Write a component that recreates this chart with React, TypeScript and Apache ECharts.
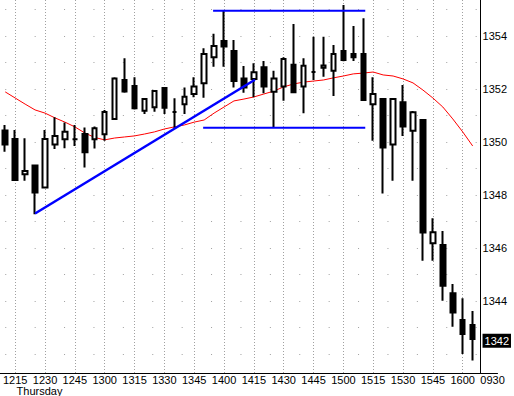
import React, { useEffect, useRef } from 'react';
import * as echarts from 'echarts';

const times = ['1210','1215','1220','1225','1230','1235','1240','1245','1250','1255','1300','1305','1310','1315','1320','1325','1330','1335','1340','1345','1350','1355','1400','1405','1410','1415','1420','1425','1430','1435','1440','1445','1450','1455','1500','1505','1510','1515','1520','1525','1530','1535','1540','1545','1550','1555','1600','1605',' ','0930'];
const shownTimes = ['1215','1230','1245','1300','1315','1330','1345','1400','1415','1430','1445','1500','1515','1530','1545','1600','0930'];
const gridTimes = ['1215','1230','1245','1300','1315','1330','1345','1400','1415','1430','1445','1500','1515','1530','1545','1600'];

const opens =  [1350.43,1350.11,1348.78,1349.11,1348.28,1349.91,1350.10,1350.10,1350.30,1350.10,1350.29,1350.87,1352.34,1352.11,1351.18,1351.31,1352.04,1351.13,1351.42,1351.81,1352.22,1353.20,1353.81,1353.43,1352.40,1352.38,1352.82,1351.90,1352.09,1352.91,1352.09,1352.64,1352.80,1352.69,1353.43,1353.32,1353.32,1351.42,1351.62,1349.91,1351.50,1350.42,1350.83,1346.18,1346.11,1344.29,1343.28,1343.09];
const closes = [1349.91,1348.57,1348.91,1348.09,1350.11,1350.23,1350.39,1350.10,1349.61,1350.52,1351.13,1352.40,1351.91,1351.27,1351.62,1351.92,1351.29,1351.13,1351.71,1352.09,1353.32,1353.62,1353.60,1352.30,1352.06,1352.63,1352.09,1352.40,1353.13,1351.88,1352.88,1352.64,1352.89,1353.32,1353.09,1353.20,1351.58,1351.81,1349.79,1351.62,1350.58,1351.12,1346.58,1346.59,1344.58,1343.57,1342.75,1342.57];
const lows =   [1349.63,1348.54,1348.54,1347.27,1348.27,1349.74,1349.76,1349.85,1349.04,1349.75,1350.05,1350.86,1351.86,1351.23,1351.06,1351.14,1351.06,1350.49,1351.06,1351.69,1351.67,1352.84,1352.84,1352.06,1351.86,1351.69,1351.84,1350.54,1351.56,1351.86,1351.08,1352.34,1352.46,1351.74,1353.05,1353.06,1351.56,1350.05,1348.06,1348.54,1350.23,1348.54,1345.52,1345.52,1344.01,1343.03,1342.00,1341.75];
const highs =  [1350.64,1350.45,1350.14,1349.12,1350.45,1350.93,1350.74,1350.64,1350.55,1350.58,1351.21,1352.44,1353.16,1352.44,1351.65,1351.96,1352.06,1351.65,1352.06,1352.44,1353.54,1354.08,1354.95,1353.85,1352.87,1352.97,1353.06,1352.69,1353.20,1354.45,1353.16,1353.97,1353.97,1353.66,1355.17,1354.38,1354.67,1352.44,1351.65,1351.65,1352.15,1351.17,1350.86,1347.12,1346.64,1344.64,1344.10,1343.62];
const movingAvg = [1351.89,1351.66,1351.43,1351.21,1351.09,1350.91,1350.75,1350.57,1350.34,1350.17,1350.08,1350.15,1350.19,1350.23,1350.30,1350.38,1350.49,1350.57,1350.64,1350.75,1350.83,1351.09,1351.32,1351.55,1351.62,1351.70,1351.81,1351.92,1352.08,1352.19,1352.26,1352.30,1352.34,1352.42,1352.49,1352.57,1352.60,1352.64,1352.53,1352.49,1352.38,1352.23,1351.96,1351.66,1351.32,1350.87,1350.38,1349.85];

const priceLevels = [1342,1343,1344,1345,1346,1347,1348,1349,1350,1351,1352,1353,1354,1355];
const priceLabels = [1344,1346,1348,1350,1352,1354];
const lastPrice = 1342.5;

// drawn annotations: [barIndex, price]
const trendLine = [[3, 1347.3], [25.1, 1352.35]];
const rangeTop = [[20.9, 1354.95], [36.2, 1354.95]];
const rangeBottom = [[19.9, 1350.54], [36.2, 1350.54]];

const yMin = 1341.283;
const yMax = 1355.358;

const FONT = 'Liberation Sans';

export default function App() {
  const ref = useRef<HTMLDivElement>(null);
  useEffect(() => {
    if (!ref.current) return;
    const chart = echarts.init(ref.current, undefined, { renderer: 'svg' });
    const candles = opens.map((o, i) => [o, closes[i], lows[i], highs[i]]);
    const option: any = {
      animation: false,
      backgroundColor: '#ffffff',
      grid: { left: -1, right: 15, top: 0, bottom: 23, containLabel: false },
      xAxis: [
        {
          type: 'category',
          data: times,
          boundaryGap: true,
          axisLine: { show: true, onZero: false, lineStyle: { color: '#000', width: 1 } },
          axisTick: { show: false },
          splitLine: { show: false },
          axisLabel: {
            interval: 0,
            margin: 1,
            color: '#000',
            fontFamily: FONT,
            fontSize: 11,
            lineHeight: 11,
            formatter: (v: string) =>
              shownTimes.includes(v) ? (v === '1230' ? '1230\n{d|Thursday}' : v) : '',
            rich: {
              d: { fontFamily: FONT, fontSize: 11, lineHeight: 11, color: '#000', padding: [0, 11, 0, 0] },
            },
          },
        },
        { type: 'value', min: -0.5, max: 49.5, show: false, axisLine: { onZero: false } },
      ],
      yAxis: [
        {
          type: 'value',
          position: 'right',
          offset: -17,
          min: yMin,
          max: yMax,
          axisLine: { show: true, onZero: false, lineStyle: { color: '#000', width: 1 } },
          axisTick: { show: false },
          splitLine: { show: false },
          axisLabel: {
            customValues: [...priceLabels, lastPrice],
            margin: 2,
            color: '#000',
            fontFamily: FONT,
            fontSize: 11,
            formatter: (v: number) =>
              v === lastPrice ? '{p|' + Math.floor(v) + '}' : String(Math.round(v)),
            rich: {
              p: {
                fontFamily: FONT,
                fontSize: 11,
                color: '#fff',
                backgroundColor: '#000',
                padding: [2, 2, 1, 2],
              },
            },
          },
        },
      ],
      series: [
        {
          type: 'line',
          name: 'ma',
          data: movingAvg,
          symbol: 'none',
          silent: true,
          z: 1,
          lineStyle: { color: '#ff0000', width: 1 },
          markLine: {
            silent: true,
            z: 0,
            symbol: ['none', 'none'],
            label: { show: false },
            emphasis: { disabled: true },
            data: [
              ...gridTimes.map((t) => ({ xAxis: t, lineStyle: { color: '#a0a0a0', width: 1, type: [1, 2] } })),
              ...priceLevels.map((p) => ({
                yAxis: p,
                lineStyle: { color: '#a0a0a0', width: 1, type: [1, 28.4], dashOffset: -5 },
              })),
            ],
          },
        },
        {
          type: 'candlestick',
          data: candles,
          barWidth: 5,
          z: 3,
          silent: true,
          itemStyle: {
            color: '#ffffff',
            color0: '#000000',
            borderColor: '#000000',
            borderColor0: '#000000',
            borderColorDoji: '#000000',
            borderWidth: 2,
          },
        },
        {
          type: 'line',
          xAxisIndex: 1,
          data: trendLine,
          symbol: 'none',
          silent: true,
          z: 5,
          lineStyle: { color: '#0000ff', width: 2.5 },
        },
        {
          type: 'line',
          xAxisIndex: 1,
          data: rangeTop,
          symbol: 'none',
          silent: true,
          z: 5,
          lineStyle: { color: '#0000ff', width: 2 },
        },
        {
          type: 'line',
          xAxisIndex: 1,
          data: rangeBottom,
          symbol: 'none',
          silent: true,
          z: 5,
          lineStyle: { color: '#0000ff', width: 2 },
        },
      ],
    };
    chart.setOption(option);
    return () => chart.dispose();
  }, []);
  return (
    <div
      ref={ref}
      style={{ position: 'absolute', left: 0, top: 0, width: 514, height: 396, background: '#fff' }}
    />
  );
}
